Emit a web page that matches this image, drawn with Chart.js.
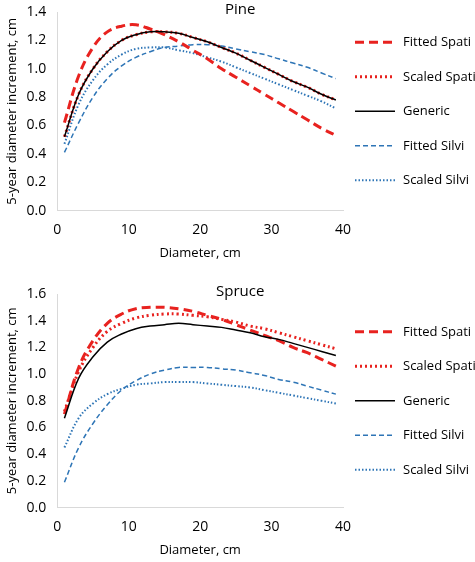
<!DOCTYPE html>
<html>
<head>
<script src="https://cdn.jsdelivr.net/npm/chart.js@4"></script>
<style>
body { margin: 0; background: #fff; }
.box { position: absolute; left: 0; width: 475px; }
</style>
</head>
<body>
<div class="box" style="top:0;height:265px"><canvas id="pine"></canvas></div>
<div class="box" style="top:282px;height:280px"><canvas id="spruce"></canvas></div>
<script>
// Diameter values (cm)
const diameters = [1,3,5,7,9,11,13,15,17,19,21,23,25,27,29,31,33,35,37,39];
const seriesNames = ['Fitted Spati', 'Scaled Spati', 'Generic', 'Fitted Silvi', 'Scaled Silvi'];

// Pine
const pineFittedSpati = [0.62,0.95,1.15,1.26,1.30,1.31,1.28,1.24,1.19,1.13,1.07,1.00,0.94,0.88,0.82,0.76,0.70,0.64,0.58,0.53];
const pineScaledSpati = [0.52,0.82,1.00,1.12,1.20,1.24,1.26,1.26,1.25,1.22,1.19,1.15,1.11,1.06,1.01,0.96,0.91,0.87,0.82,0.78];
const pineGeneric     = [0.52,0.82,1.00,1.12,1.20,1.24,1.26,1.26,1.25,1.22,1.19,1.15,1.11,1.06,1.01,0.96,0.91,0.87,0.82,0.78];
const pineFittedSilvi = [0.41,0.62,0.80,0.93,1.02,1.08,1.12,1.15,1.16,1.17,1.17,1.16,1.14,1.12,1.10,1.07,1.04,1.01,0.97,0.93];
const pineScaledSilvi = [0.47,0.75,0.92,1.03,1.10,1.14,1.15,1.15,1.13,1.11,1.08,1.05,1.01,0.97,0.93,0.89,0.85,0.81,0.77,0.72];

// Spruce
const spruceFittedSpati = [0.70,1.05,1.25,1.38,1.45,1.49,1.50,1.50,1.49,1.47,1.44,1.41,1.37,1.33,1.29,1.25,1.20,1.16,1.11,1.06];
const spruceScaledSpati = [0.72,1.02,1.20,1.32,1.38,1.42,1.44,1.45,1.45,1.44,1.43,1.41,1.39,1.36,1.34,1.31,1.28,1.25,1.22,1.19];
const spruceGeneric     = [0.67,0.97,1.13,1.24,1.30,1.34,1.36,1.37,1.38,1.37,1.36,1.35,1.33,1.31,1.28,1.26,1.23,1.20,1.17,1.14];
const spruceFittedSilvi = [0.19,0.45,0.63,0.77,0.88,0.95,1.00,1.03,1.05,1.05,1.05,1.04,1.03,1.01,0.99,0.96,0.94,0.91,0.88,0.85];
const spruceScaledSilvi = [0.45,0.67,0.78,0.85,0.89,0.92,0.93,0.94,0.94,0.94,0.93,0.92,0.91,0.90,0.88,0.86,0.84,0.82,0.80,0.78];

const styles = [
    { color: '#e8221f', width: 3, dash: [9, 5] },
    { color: '#e8221f', width: 3, dash: [2, 3] },
    { color: '#000000', width: 1.5, dash: [] },
    { color: '#2e75b6', width: 1.5, dash: [5, 3] },
    { color: '#2e75b6', width: 2, dash: [1.5, 2] }
];

const FONT = 'Open Sans';

function makeChart(id, title, series, yMax) {
    const datasets = series.map((vals, i) => ({
        label: seriesNames[i],
        data: vals.map((v, j) => ({ x: diameters[j], y: v })),
        borderColor: styles[i].color,
        borderWidth: styles[i].width,
        borderDash: styles[i].dash,
        pointRadius: 0,
        tension: 0.4,
        order: i === 2 ? 0 : 1   // generic on top
    }));

    // title inside the plot + legend on the right, drawn by hand so dashes show
    const extras = {
        id: 'extras',
        afterDraw(chart) {
            const c = chart.ctx;
            const a = chart.chartArea;
            c.save();
            c.font = '15px ' + FONT;
            c.fillStyle = '#000';
            c.textAlign = 'center';
            c.textBaseline = 'top';
            c.fillText(title, a.left + (a.right - a.left) * 0.64, a.top - 10);

            c.font = '13px ' + FONT;
            c.textAlign = 'left';
            c.textBaseline = 'middle';
            const x0 = a.right + 12;
            const yMid = a.top + (a.bottom - a.top) * 0.5;
            seriesNames.forEach((name, i) => {
                const y = yMid + (i - 2) * 34.5;
                c.strokeStyle = styles[i].color;
                c.lineWidth = styles[i].width;
                c.setLineDash(styles[i].dash);
                c.beginPath();
                c.moveTo(x0, y);
                c.lineTo(x0 + 40, y);
                c.stroke();
                c.setLineDash([]);
                c.fillText(name, x0 + 48, y);
            });
            c.restore();
        }
    };

    return new Chart(document.getElementById(id), {
        type: 'line',
        data: { datasets },
        plugins: [extras],
        options: {
            responsive: true,
            maintainAspectRatio: false,
            animation: false,
            layout: { padding: { top: 12, right: 132 } },
            plugins: {
                legend: { display: false },
                tooltip: { enabled: false }
            },
            scales: {
                x: {
                    type: 'linear',
                    min: 0, max: 40,
                    ticks: { stepSize: 10, color: '#000', font: { family: FONT, size: 14 } },
                    grid: { display: false },
                    border: { color: '#d9d9d9' },
                    title: { display: true, text: 'Diameter, cm', color: '#000', font: { family: FONT, size: 13 } }
                },
                y: {
                    min: 0, max: yMax,
                    ticks: { stepSize: 0.2, color: '#000', font: { family: FONT, size: 14 },
                             callback: v => v.toFixed(1) },
                    grid: { display: false },
                    border: { color: '#d9d9d9' },
                    title: { display: true, text: '5-year diameter increment, cm', color: '#000', font: { family: FONT, size: 13 } }
                }
            }
        }
    });
}

makeChart('pine', 'Pine', [pineFittedSpati, pineScaledSpati, pineGeneric, pineFittedSilvi, pineScaledSilvi], 1.4);
makeChart('spruce', 'Spruce', [spruceFittedSpati, spruceScaledSpati, spruceGeneric, spruceFittedSilvi, spruceScaledSilvi], 1.6);
</script>
</body>
</html>
